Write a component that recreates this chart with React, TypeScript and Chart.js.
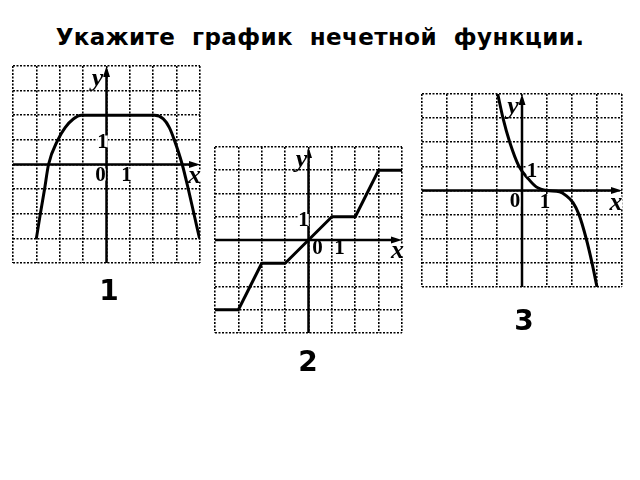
import { useEffect, useRef } from "react";
import { Chart, registerables } from "chart.js";
Chart.register(...registerables);

// task text and answer numbers
const title = "Укажите  график  нечетной  функции.";
const answerNumbers = ["1", "2", "3"];

// axis range and signs on every grid
const axisMin = -4;
const axisMax = 4;
const axisNames = ["x", "y"];
const unitLabels = ["0", "1", "1"];

// graph 1: even-like curve with a plateau
const curve1X = [-3, -2.83, -2.65, -2.48, -2.08, -1.77, -1.42, -1.07, 2.05, 2.43, 2.69, 2.9, 3.24, 3.5, 3.74, 3.98];
const curve1Y = [-3, -2, -1, 0, 1, 1.5, 1.85, 2, 2, 1.85, 1.5, 1, 0, -1, -2, -3];

// graph 2: broken line
const curve2X = [-4, -3, -2, -1, 1, 2, 3, 4];
const curve2Y = [-3, -3, -1, -1, 1, 1, 3, 3];

// graph 3: cubic-like curve
const curve3X = [-0.97, -0.76, -0.49, -0.12, 0.24, 0.57, 1, 1.5, 1.75, 2.04, 2.28, 2.57, 2.8, 3.0];
const curve3Y = [4, 3, 2, 1, 0.5, 0.15, 0, -0.05, -0.2, -0.5, -1, -2, -3, -4];

type Offset = [number, number];

type GraphProps = {
  left: number;
  top: number;
  width: number;
  height: number;
  xs: number[];
  ys: number[];
  smooth: boolean;
  // centres of "x", "y", "0", "1" on x, "1" on y, relative to the origin
  offsets: Offset[];
};

const PAD = 12;
const numFont = 'bold 21px "Liberation Serif"';
const varFont = 'italic bold 26px "Liberation Serif"';

function Graph({ left, top, width, height, xs, ys, smooth, offsets }: GraphProps) {
  const canvasRef = useRef<HTMLCanvasElement>(null);
  const chartRef = useRef<Chart | null>(null);

  useEffect(() => {
    if (!canvasRef.current) return;
    chartRef.current?.destroy();

    const axes = {
      id: "axes",
      beforeDatasetsDraw(chart: Chart) {
        const { ctx, chartArea: a } = chart;
        const ox = chart.scales.x.getPixelForValue(0);
        const oy = chart.scales.y.getPixelForValue(0);
        ctx.save();
        ctx.strokeStyle = "#000";
        ctx.fillStyle = "#000";
        ctx.lineWidth = 2.5;
        ctx.beginPath();
        ctx.moveTo(a.left, oy);
        ctx.lineTo(a.right - 6, oy);
        ctx.moveTo(ox, a.bottom);
        ctx.lineTo(ox, a.top + 6);
        ctx.stroke();
        ctx.beginPath();
        ctx.moveTo(a.right, oy);
        ctx.lineTo(a.right - 11, oy - 3.5);
        ctx.lineTo(a.right - 11, oy + 3.5);
        ctx.closePath();
        ctx.moveTo(ox, a.top);
        ctx.lineTo(ox - 3.5, a.top + 11);
        ctx.lineTo(ox + 3.5, a.top + 11);
        ctx.closePath();
        ctx.fill();
        ctx.restore();
      },
      afterDraw(chart: Chart) {
        const { ctx } = chart;
        const ox = chart.scales.x.getPixelForValue(0);
        const oy = chart.scales.y.getPixelForValue(0);
        const texts = [...axisNames, ...unitLabels];
        ctx.save();
        ctx.textAlign = "center";
        ctx.textBaseline = "middle";
        texts.forEach((t, i) => {
          const [dx, dy] = offsets[i];
          ctx.font = i < 2 ? varFont : numFont;
          ctx.fillStyle = "#fff";
          const w = ctx.measureText(t).width;
          ctx.fillRect(ox + dx - w / 2, oy + dy - 6, w, 12);
          ctx.fillStyle = "#000";
          ctx.fillText(t, ox + dx, oy + dy + (i === 1 ? 3 : 1));
        });
        ctx.restore();
      },
    };

    const gridOpts = {
      type: "linear" as const,
      min: axisMin,
      max: axisMax,
      ticks: { display: false, stepSize: 1 },
      grid: { color: "#000", lineWidth: 1.6, drawTicks: false },
      border: { display: false, dash: [2, 1.5] },
    };

    chartRef.current = new Chart(canvasRef.current, {
      type: "scatter",
      data: {
        datasets: [{
          data: xs.map((x, i) => ({ x, y: ys[i] })),
          showLine: true,
          borderColor: "#000",
          borderWidth: 3,
          pointRadius: 0,
          cubicInterpolationMode: smooth ? "monotone" : "default",
          tension: 0,
          borderJoinStyle: "round",
        }],
      },
      options: {
        responsive: false,
        animation: false,
        layout: { padding: PAD },
        plugins: { legend: { display: false }, tooltip: { enabled: false } },
        scales: { x: gridOpts, y: gridOpts },
      },
      plugins: [axes],
    });

    return () => { chartRef.current?.destroy(); };
  }, []);

  return (
    <canvas
      ref={canvasRef}
      width={width + PAD * 2}
      height={height + PAD * 2}
      style={{ position: "absolute", left: left - PAD, top: top - PAD, width: width + PAD * 2, height: height + PAD * 2 }}
    />
  );
}

const bigNum = {
  position: "absolute" as const,
  font: 'bold 28px "DejaVu Sans"',
  lineHeight: "28px",
  width: 40,
  textAlign: "center" as const,
  color: "#000",
};

export default function App() {
  return (
    <div style={{ position: "fixed", left: 0, top: 0, width: 640, height: 480, background: "#fff", overflow: "hidden" }}>
      <div style={{
        position: "absolute", left: 0, top: 26, width: 640, textAlign: "center",
        font: 'bold 23px "DejaVu Sans"', lineHeight: "23px", letterSpacing: "0.4px",
        whiteSpace: "pre", color: "#000",
      }}>{title}</div>

      <Graph left={13} top={66} width={187} height={197} xs={curve1X} ys={curve1Y} smooth
        offsets={[[88, 11], [-9, -88], [-6, 10], [20, 10], [-4, -23]]} />
      <Graph left={215} top={147} width={187} height={186} xs={curve2X} ys={curve2Y} smooth={false}
        offsets={[[89, 10], [-7, -83], [9, 8], [31, 8], [-5, -20]]} />
      <Graph left={422} top={94} width={200} height={193} xs={curve3X} ys={curve3Y} smooth
        offsets={[[94, 12], [-9, -86], [-7, 10], [23, 11], [10, -20]]} />

      <div style={{ ...bigNum, left: 89, top: 277 }}>{answerNumbers[0]}</div>
      <div style={{ ...bigNum, left: 288, top: 348 }}>{answerNumbers[1]}</div>
      <div style={{ ...bigNum, left: 504, top: 307 }}>{answerNumbers[2]}</div>
    </div>
  );
}
